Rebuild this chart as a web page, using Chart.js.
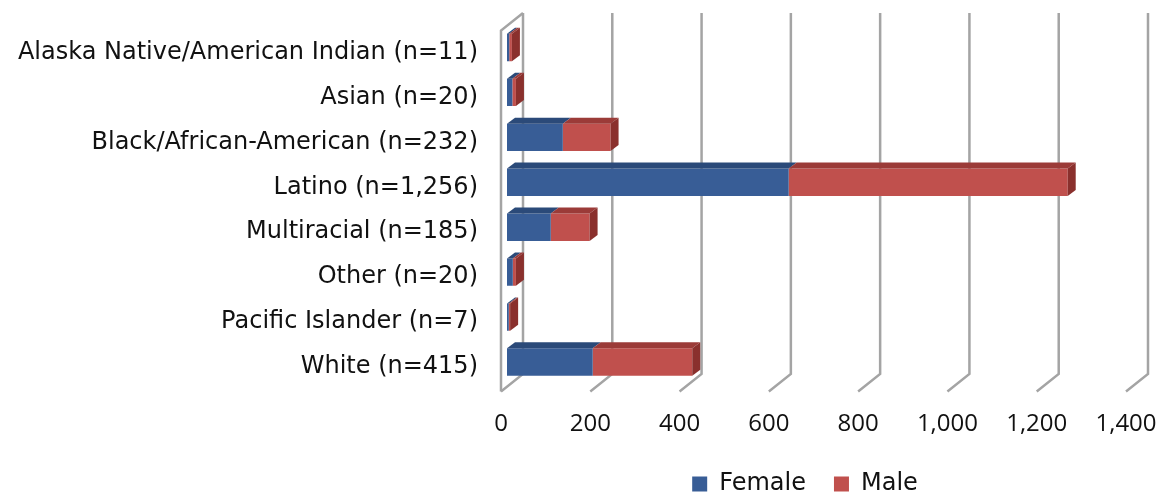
<!DOCTYPE html>
<html>
<head>
<meta charset="utf-8">
<script src="https://cdn.jsdelivr.net/npm/chart.js@4.4.1/dist/chart.umd.min.js"></script>
<style>
  html, body { margin: 0; padding: 0; background: #ffffff; }
  #wrap { width: 1160px; height: 493px; }
</style>
</head>
<body>
<div id="wrap"><canvas id="chart" width="1160" height="493"></canvas></div>
<script>
// Respondents by race/ethnicity, split by gender
const categories = [
  'Alaska Native/American Indian (n=11)',
  'Asian (n=20)',
  'Black/African-American (n=232)',
  'Latino (n=1,256)',
  'Multiracial (n=185)',
  'Other (n=20)',
  'Pacific Islander (n=7)',
  'White (n=415)'
];
const female = [5, 12, 125, 631, 98, 13, 4, 192];
const male   = [6, 8, 107, 625, 87, 7, 3, 223];
const tickValues = [0, 200, 400, 600, 800, 1000, 1200, 1400];

const COLORS = {
  femaleFront: '#385d96', femaleTop: '#2b4a79',
  maleFront: '#c0504d',   maleTop: '#9b3b38', maleSide: '#8a302d'
};

// depth of the back wall / floor and of each bar box
const WALL = { dx: 22, dy: 17.5, back: 16 };
const BAR = { dx: 8, dy: 6 };

// gridlines on the back wall and their floor returns
const wallPlugin = {
  id: 'wall3d',
  beforeDatasetsDraw(chart) {
    const { ctx, chartArea: a, scales: { x } } = chart;
    const backTop = a.top - 12;
    const backBottom = a.bottom - 10.5;
    ctx.save();
    ctx.strokeStyle = '#a4a4a4';
    ctx.lineWidth = 2.5;
    ctx.lineJoin = 'miter';
    tickValues.forEach(v => {
      const xb = x.getPixelForValue(v) + WALL.back;
      ctx.beginPath();
      ctx.moveTo(xb, backTop);
      ctx.lineTo(xb, backBottom);
      ctx.lineTo(xb - WALL.dx, backBottom + WALL.dy);
      ctx.stroke();
    });
    // side wall front edge
    const xb0 = x.getPixelForValue(0) + WALL.back;
    ctx.beginPath();
    ctx.moveTo(xb0, backTop);
    ctx.lineTo(xb0 - WALL.dx, backTop + WALL.dy);
    ctx.lineTo(xb0 - WALL.dx, backBottom + WALL.dy);
    ctx.stroke();
    ctx.restore();
  }
};

// top and side faces that give each stacked bar its depth
const boxPlugin = {
  id: 'box3d',
  afterDatasetsDraw(chart) {
    const { ctx } = chart;
    const metas = chart.getSortedVisibleDatasetMetas();
    const tops = [COLORS.femaleTop, COLORS.maleTop];
    ctx.save();
    categories.forEach((_, i) => {
      metas.forEach((meta, d) => {
        const el = meta.data[i];
        if (!el) return;
        const { x, y, base, height } = el.getProps(['x', 'y', 'base', 'height'], true);
        const t = y - height / 2, b = y + height / 2;
        ctx.fillStyle = tops[d];
        ctx.beginPath();
        ctx.moveTo(base, t);
        ctx.lineTo(base + BAR.dx, t - BAR.dy);
        ctx.lineTo(x + BAR.dx, t - BAR.dy);
        ctx.lineTo(x, t);
        ctx.closePath();
        ctx.fill();
        if (d === metas.length - 1) {
          ctx.fillStyle = COLORS.maleSide;
          ctx.beginPath();
          ctx.moveTo(x, t);
          ctx.lineTo(x + BAR.dx, t - BAR.dy);
          ctx.lineTo(x + BAR.dx, b - BAR.dy);
          ctx.lineTo(x, b);
          ctx.closePath();
          ctx.fill();
        }
      });
    });
    ctx.restore();
  }
};

// centre the legend under the plot and category labels
const legendPlace = {
  id: 'legendPlace',
  afterLayout(chart) {
    const lg = chart.legend, a = chart.chartArea;
    lg.left = a.left - 29;
    lg.right = a.right;
  }
};

new Chart(document.getElementById('chart'), {
  type: 'bar',
  data: {
    labels: categories,
    datasets: [
      { label: 'Female', data: female, backgroundColor: COLORS.femaleFront, borderWidth: 0,
        barPercentage: 0.61, categoryPercentage: 1.0 },
      { label: 'Male', data: male, backgroundColor: COLORS.maleFront, borderWidth: 0,
        barPercentage: 0.61, categoryPercentage: 1.0 }
    ]
  },
  options: {
    indexAxis: 'y',
    responsive: false,
    animation: false,
    devicePixelRatio: 1,
    layout: { padding: { top: 25, right: 28, bottom: -13, left: 0 } },
    scales: {
      x: {
        stacked: true,
        min: 0, max: 1400,
        afterBuildTicks(scale) { scale.ticks = tickValues.map(v => ({ value: v })); },
        afterFit(scale) { scale.height = 59.5; scale.paddingLeft = 0; scale.paddingRight = 0; },
        grid: { display: false, drawTicks: false },
        border: { display: false },
        ticks: {
          padding: 25,
          labelOffset: -6,
          maxRotation: 0,
          color: '#111111',
          font: { family: '"Open Sans", "Noto Sans", sans-serif', size: 24 },
          callback: v => Number(v).toLocaleString('en-US')
        }
      },
      y: {
        stacked: true,
        afterFit(scale) { scale.width = 507; scale.paddingTop = 0; scale.paddingBottom = 0; },
        grid: { display: false, drawTicks: false },
        border: { display: false },
        ticks: {
          padding: 29,
          labelOffset: 5,
          color: '#111111',
          font: { family: '"DejaVu Sans", Verdana, sans-serif', size: 24 }
        }
      }
    },
    plugins: {
      legend: {
        position: 'bottom',
        labels: {
          boxWidth: 15, boxHeight: 15, padding: 28,
          color: '#111111',
          font: { family: '"DejaVu Sans", Verdana, sans-serif', size: 24 }
        }
      },
      tooltip: { enabled: false }
    }
  },
  plugins: [wallPlugin, boxPlugin, legendPlace]
});
</script>
</body>
</html>
